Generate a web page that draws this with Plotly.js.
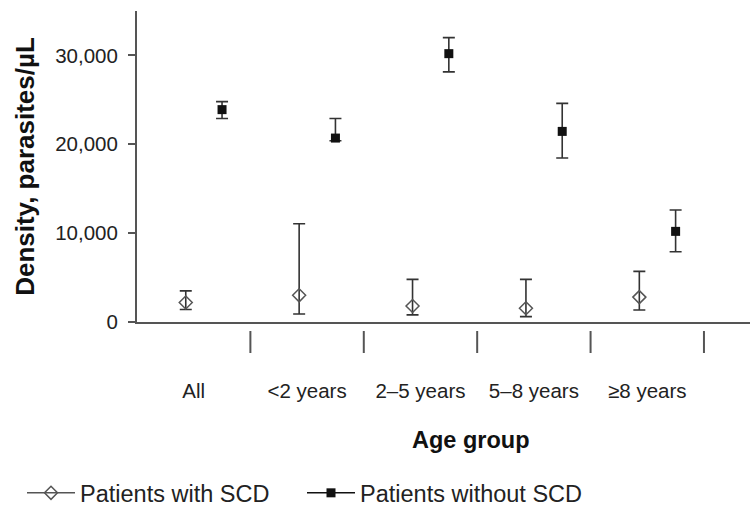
<!DOCTYPE html>
<html>
<head>
<meta charset="utf-8">
<script src="https://cdn.plot.ly/plotly-3.0.1.min.js"></script>
<style>html,body{margin:0;padding:0;background:#fff;}#chart{width:750px;height:508px;}</style>
</head>
<body>
<div id="chart"></div>
<script>
// ---- data ----
const categories = ['All', '<2 years', '2\u20135 years', '5\u20138 years', '\u22658 years'];
const scdMean  = [2200, 3000, 1800, 1550, 2800];
const scdUpper = [3500, 11050, 4800, 4800, 5700];
const scdLower = [1400, 900, 800, 600, 1350];
const nonMean  = [23900, 20700, 30200, 21450, 10200];
const nonUpper = [24800, 22900, 32000, 24600, 12600];
const nonLower = [22900, 20400, 28150, 18450, 7900];
const yTicks   = [0, 10000, 20000, 30000];
const seriesNames = ['Patients with SCD', 'Patients without SCD'];

// ---- styling ----
const FONT = 'Liberation Sans, Arial, Helvetica, sans-serif';
const AXIS = '#555';
const TXT = '#222';
const scdOffset = -0.07, nonOffset = 0.25;

const idx = categories.map((c, i) => i);
const scdStyle = {symbol: 'diamond-open', size: 10, color: '#555', line: {width: 1.5, color: '#555'}};
const nonStyle = {symbol: 'square', size: 9, color: '#111', line: {width: 0}};

const traces = [
  {
    type: 'scatter', mode: 'markers', showlegend: false,
    x: idx.map(i => i + scdOffset), y: scdMean,
    marker: scdStyle,
    error_y: {type: 'data', symmetric: false,
      array: scdUpper.map((u, i) => u - scdMean[i]),
      arrayminus: scdLower.map((l, i) => scdMean[i] - l),
      color: '#333', thickness: 1.6, width: 6}
  },
  {
    type: 'scatter', mode: 'markers', showlegend: false,
    x: idx.map(i => i + nonOffset), y: nonMean,
    marker: nonStyle,
    error_y: {type: 'data', symmetric: false,
      array: nonUpper.map((u, i) => u - nonMean[i]),
      arrayminus: nonLower.map((l, i) => nonMean[i] - l),
      color: '#333', thickness: 1.6, width: 6}
  },
  // legend-only entries (line + marker symbol as in the reference legend)
  {type: 'scatter', mode: 'lines+markers', name: seriesNames[0], x: [null], y: [null],
   marker: scdStyle, line: {color: '#555', width: 1.5}},
  {type: 'scatter', mode: 'lines+markers', name: seriesNames[1], x: [null], y: [null],
   marker: nonStyle, line: {color: '#111', width: 1.5}}
];

const shapes = idx.map(i => ({
  type: 'line', xref: 'x', yref: 'paper',
  x0: i + 0.5, x1: i + 0.5, y0: -0.029, y1: -0.0997,
  line: {color: AXIS, width: 2}
}));

const layout = {
  width: 750, height: 508,
  margin: {l: 137, r: 0, t: 11, b: 186, autoexpand: false},
  paper_bgcolor: '#fff', plot_bgcolor: '#fff',
  font: {family: FONT, color: TXT},
  showlegend: true,
  xaxis: {
    range: [-0.5, 4.906], tickmode: 'array', tickvals: idx, ticktext: categories,
    ticks: '', showline: true, linecolor: AXIS, linewidth: 2,
    showgrid: false, zeroline: false, ticklabelstandoff: 49, automargin: false,
    tickfont: {size: 20.5, color: TXT, family: FONT}
  },
  yaxis: {
    range: [0, 35000], tickmode: 'array', tickvals: yTicks, tickformat: ',d',
    ticks: 'outside', ticklen: 7, tickwidth: 2, tickcolor: AXIS,
    showline: true, linecolor: AXIS, linewidth: 2, ticklabelstandoff: 6,
    showgrid: false, zeroline: false, automargin: false,
    tickfont: {size: 20.5, color: TXT, family: FONT},
    title: {text: 'Density, parasites/\u00b5L', standoff: 13,
      font: {size: 26, color: '#111', family: FONT, weight: 'bold'}}
  },
  annotations: [{
    text: 'Age group', xref: 'paper', yref: 'paper', x: 0.545, y: -0.379,
    xanchor: 'center', yanchor: 'middle', showarrow: false,
    font: {size: 23.5, color: '#111', family: FONT, weight: 'bold'}
  }],
  legend: {
    orientation: 'h', x: -0.1876, xanchor: 'left', y: -0.55, yanchor: 'middle',
    font: {size: 23.5, color: TXT, family: FONT}, itemwidth: 48,
    entrywidth: 217, entrywidthmode: 'pixels',
    bgcolor: 'rgba(0,0,0,0)'
  },
  shapes: shapes
};

Plotly.newPlot('chart', traces, layout, {displayModeBar: false, staticPlot: true});
</script>
</body>
</html>
